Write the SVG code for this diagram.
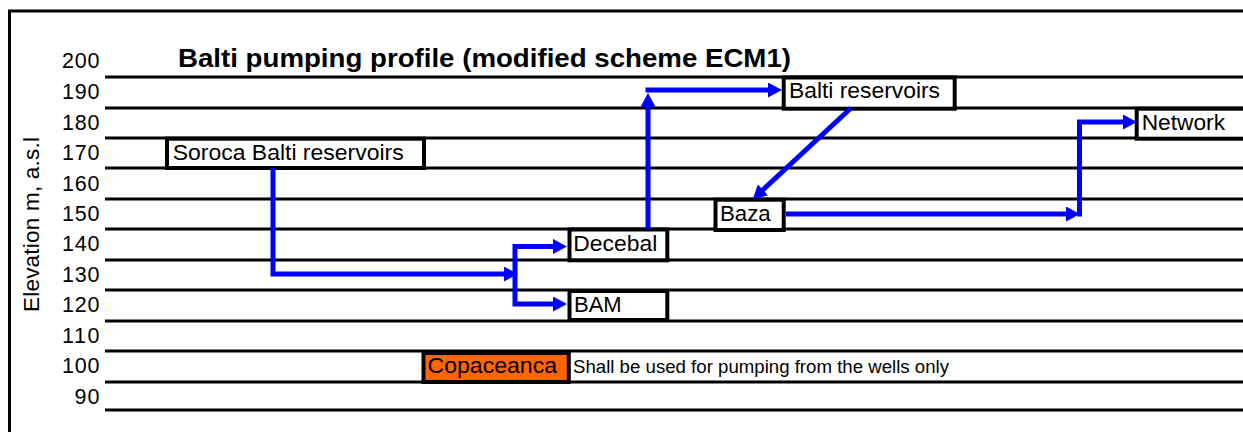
<svg xmlns="http://www.w3.org/2000/svg" width="1243" height="432" viewBox="0 0 1243 432">
  <style>
    text { font-family: "Liberation Sans", Arial, sans-serif; fill: #000; }
    .grid { stroke: #000; stroke-width: 3; fill: none; }
    .tick { font-size: 21.5px; text-anchor: end; }
    .box { fill: #fff; stroke: #000; stroke-width: 4; }
    .lbl { font-size: 22px; }
    .flow { fill: none; stroke: #0000ff; stroke-width: 5; stroke-linejoin: miter; stroke-linecap: butt; }
  </style>
  <defs>
    <marker id="arrow" viewBox="0 0 14 15" refX="1" refY="7.5" markerWidth="14" markerHeight="15" markerUnits="userSpaceOnUse" orient="auto">
      <path d="M0,0 L14,7.5 L0,15 Z" fill="#0000ff"/>
    </marker>
  </defs>

  <rect width="1243" height="432" fill="#fff"/>

  <!-- outer frame (runs past the right and bottom edges) -->
  <rect x="9.5" y="11" width="1300" height="500" fill="none" stroke="#000" stroke-width="3"/>

  <!-- elevation grid -->
  <g id="grid">
    <path class="grid" d="M105,77H1250 M105,108H1250 M105,138H1250 M105,168H1250 M105,199H1250 M105,229H1250 M105,260H1250 M105,290H1250 M105,321H1250 M105,351H1250 M105,382H1250 M105,410H1250"/>
  </g>

  <!-- axis ticks -->
  <g id="axis">
    <text class="tick" x="99.5" y="68.3" textLength="37.5">200</text>
    <text class="tick" x="99.5" y="99" textLength="37.5">190</text>
    <text class="tick" x="99.5" y="129.8" textLength="37.5">180</text>
    <text class="tick" x="99.5" y="160.3" textLength="37.5">170</text>
    <text class="tick" x="99.5" y="190.8" textLength="37.5">160</text>
    <text class="tick" x="99.5" y="221.1" textLength="37.5">150</text>
    <text class="tick" x="99.5" y="251.3" textLength="37.5">140</text>
    <text class="tick" x="99.5" y="281.8" textLength="37.5">130</text>
    <text class="tick" x="99.5" y="312.3" textLength="37.5">120</text>
    <text class="tick" x="99.5" y="342.8" textLength="37.5">110</text>
    <text class="tick" x="99.5" y="373.2" textLength="37.5">100</text>
    <text class="tick" x="99.5" y="403.5" textLength="25">90</text>
    <text transform="translate(39,224.5) rotate(-90)" text-anchor="middle" font-size="22.5" textLength="175">Elevation m, a.s.l</text>
  </g>

  <!-- title -->
  <text id="title" x="178" y="67.3" font-size="26.5" font-weight="bold" textLength="613" lengthAdjust="spacingAndGlyphs">Balti pumping profile (modified scheme ECM1)</text>

  <!-- nodes -->
  <g id="soroca">
    <rect class="box" x="167" y="138.7" width="257" height="29.3"/>
    <text class="lbl" x="172.7" y="159.5" textLength="231" lengthAdjust="spacingAndGlyphs">Soroca Balti reservoirs</text>
  </g>
  <g id="balti-reservoirs">
    <rect class="box" x="783.7" y="77.5" width="171" height="31.2"/>
    <text class="lbl" x="789" y="97.5" textLength="151" lengthAdjust="spacingAndGlyphs">Balti reservoirs</text>
  </g>
  <g id="decebal">
    <rect class="box" x="569.5" y="229.5" width="97.8" height="30.8"/>
    <text class="lbl" x="573.3" y="250.9" textLength="84" lengthAdjust="spacingAndGlyphs">Decebal</text>
  </g>
  <g id="bam">
    <rect class="box" x="569.5" y="291" width="97.8" height="29"/>
    <text class="lbl" x="574" y="311.9" textLength="47.7" lengthAdjust="spacingAndGlyphs">BAM</text>
  </g>
  <g id="baza">
    <rect class="box" x="715.5" y="199.7" width="68.2" height="30.3"/>
    <text class="lbl" x="720" y="220.9" textLength="50.7" lengthAdjust="spacingAndGlyphs">Baza</text>
  </g>
  <g id="network">
    <rect class="box" x="1136.7" y="108.7" width="130" height="30"/>
    <text class="lbl" x="1141.7" y="129.5" textLength="83.3" lengthAdjust="spacingAndGlyphs">Network</text>
  </g>
  <g id="copaceanca">
    <rect x="423.5" y="353" width="145.3" height="29" fill="#ff6600" stroke="#000" stroke-width="4"/>
    <text class="lbl" x="427.6" y="373.2" textLength="129.4" lengthAdjust="spacingAndGlyphs">Copaceanca</text>
    <text x="573" y="373" font-size="18" textLength="376" lengthAdjust="spacingAndGlyphs">Shall be used for pumping from the wells only</text>
  </g>

  <!-- pumping connections -->
  <g id="connectors">
    <path class="flow" d="M273,168 V274 H505" marker-end="url(#arrow)"/>
    <path class="flow" d="M515,275 V246.5 H554" marker-end="url(#arrow)"/>
    <path class="flow" d="M515,274 V304 H554" marker-end="url(#arrow)"/>
    <path class="flow" d="M648,229 V106" marker-end="url(#arrow)"/>
    <path class="flow" d="M645.5,90 H769" marker-end="url(#arrow)"/>
    <path class="flow" d="M851,108 L762.3,190.5" marker-end="url(#arrow)"/>
    <path class="flow" d="M786,214 H1067" marker-end="url(#arrow)"/>
    <path class="flow" d="M1079.5,216.5 V122 H1124" marker-end="url(#arrow)"/>
  </g>
</svg>
